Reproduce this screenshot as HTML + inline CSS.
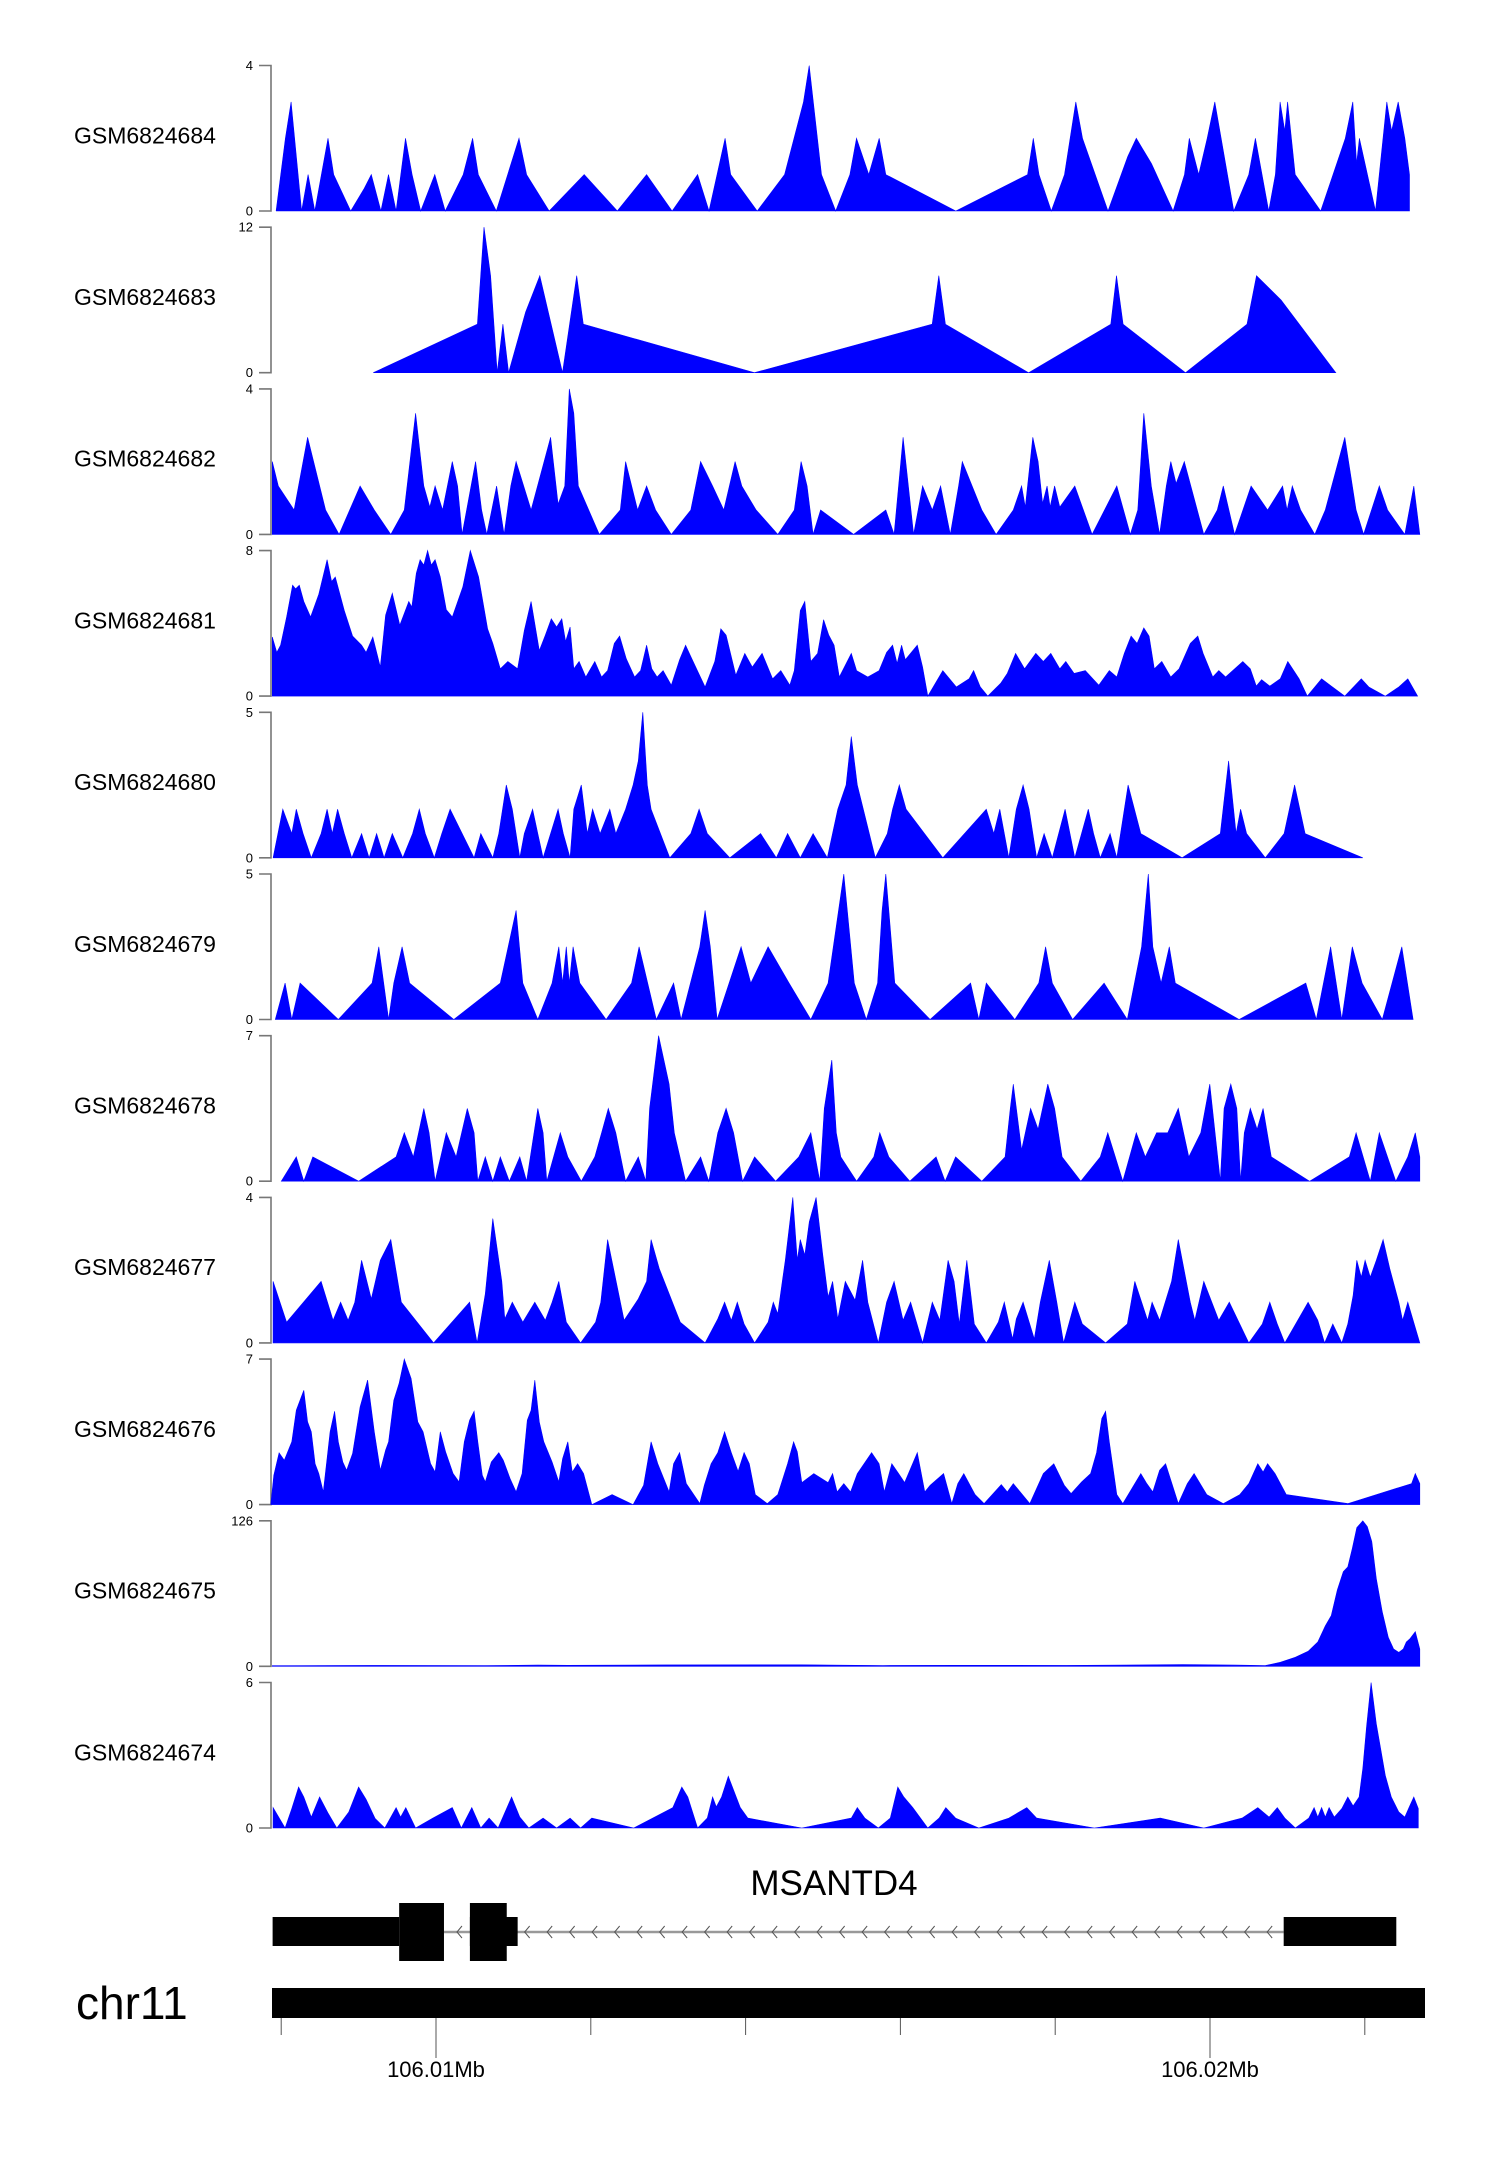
<!DOCTYPE html>
<html><head><meta charset="utf-8"><style>
html,body{margin:0;padding:0;background:#fff;}
svg{display:block;font-family:"Liberation Sans",sans-serif;}
</style></head><body>
<svg id="chart" width="1500" height="2170" viewBox="0 0 1500 2170" xmlns="http://www.w3.org/2000/svg"></svg>
<script>
// ---------- data ----------
// positions are genomic bins (BIN_BP bp each) counted from REGION_START_BP
const REGION_START_BP = 106007730;
const BIN_BP = 9.69;
const sampleNames = ["GSM6824684","GSM6824683","GSM6824682","GSM6824681","GSM6824680","GSM6824679","GSM6824678","GSM6824677","GSM6824676","GSM6824675","GSM6824674"];
const yMax = [4,12,4,8,5,5,7,4,7,126,6];
const gsm6824684 = [[21,0],[33.5,2],[41,3],[55,0],[63.7,1],[72.6,0],[90.2,2],[97.8,1],[120.5,0],[138,0.6],[148,1],[160.8,0],[170.9,1],[181,0],[193.6,2],[202.4,1],[213.8,0],[232.7,1],[246.5,0],[270.5,1],[283.1,2],[290.7,1],[314.6,0],[344.9,2],[355,1],[385.2,0],[431.8,1],[476,0],[515,1],[549,0],[583.1,1],[598.2,0],[619.7,2],[627.2,1],[662.5,0],[699.1,1],[724.3,3],[731.8,4],[748.2,1],[767.2,0],[786.1,1],[794.9,2],[811.3,1],[825.2,2],[834,1],[927.3,0],[1023,1],[1030.6,2],[1038.2,1],[1054.6,0],[1072.2,1],[1087.3,3],[1096.2,2],[1130.2,0],[1156.7,1.5],[1168,2],[1188.2,1.3],[1217.1,0],[1232.3,1],[1238.6,2],[1251.2,1],[1262.5,2],[1272.6,3],[1298,0],[1318,1],[1326.8,2],[1344.5,0],[1353.4,1],[1359.7,3],[1366,2.2],[1369.7,3],[1379.8,1],[1413.8,0],[1446.6,2],[1456.7,3],[1461.7,1.3],[1465.5,2],[1486.9,0],[1502,3],[1508.4,2.2],[1517.2,3],[1526,2],[1532.3,1]];
const gsm6824683 = [[150.7,0],[289.4,4],[298.2,12],[307,8],[315.9,0],[323.4,4],[331,0],[353.7,5],[372.6,8],[402.9,0],[421.8,8],[430.6,4],[658.8,0],[895.8,4],[904.6,8],[913.4,4],[1024.4,0],[1134,4],[1141.6,8],[1150.4,4],[1233.6,0],[1315.6,4],[1328.2,8],[1360.9,6],[1434,0]];
const gsm6824682 = [[16,2],[24,1.33],[45,0.67],[63,2.67],[87,0.67],[105,0],[133,1.33],[152,0.67],[174,0],[192,0.67],[207,3.33],[218,1.33],[226,0.75],[233,1.33],[243,0.67],[256,2],[263,1.33],[269,0],[287,2],[295,0.67],[302,0],[315,1.33],[325,0],[334,1.33],[341,2],[361,0.67],[387,2.67],[397,0.83],[406,1.33],[412,4],[418,3.33],[424,1.33],[452,0],[480,0.67],[487,2],[503,0.67],[515,1.33],[527,0.67],[548,0],[574,0.67],[587,2],[603,1.33],[618,0.67],[633,2],[642,1.33],[661,0.67],[690,0],[712,0.67],[721,2],[729,1.33],[737,0],[747,0.67],[791,0],[834,0.67],[845,0],[857,2.67],[871,0],[883,1.33],[896,0.67],[907,1.33],[920,0],[931,1.33],[936,2],[962,0.67],[981,0],[1004,0.67],[1015,1.33],[1020,0.75],[1030,2.67],[1037,2],[1043,0.85],[1049,1.33],[1053,0.75],[1059,1.33],[1066,0.75],[1086,1.33],[1109,0],[1142,1.33],[1160,0],[1170,0.67],[1178,3.33],[1188,1.33],[1199,0],[1208,1.33],[1214,2],[1221,1.4],[1232,2],[1258,0],[1276,0.67],[1284,1.33],[1299,0],[1321,1.33],[1343,0.67],[1363,1.33],[1369,0.67],[1376,1.33],[1387,0.67],[1406,0],[1420,0.67],[1446,2.67],[1461,0.67],[1471,0],[1492,1.33],[1503,0.67],[1526,0],[1538,1.33],[1546,0]];
const gsm6824681 = [[16,3.25],[22,2.4],[27,2.8],[35,4.35],[43,6.1],[47,5.9],[52,6.1],[58,5.2],[67,4.35],[78,5.6],[89,7.5],[95,6.3],[100,6.55],[112,4.7],[123,3.3],[135,2.8],[141,2.4],[150,3.25],[160,1.6],[167,4.45],[176,5.65],[186,3.9],[198,5.2],[202,4.9],[208,6.75],[213,7.5],[218,7.2],[223,8],[228,7.2],[233,7.5],[240,6.55],[248,4.75],[256,4.35],[270,6],[280,8],[291,6.55],[303,3.7],[310,2.9],[320,1.5],[330,1.9],[343,1.5],[352,3.6],[361,5.2],[372,2.5],[380,3.35],[388,4.25],[395,3.8],[402,4.25],[407,3],[413,3.8],[418,1.5],[425,1.9],[434,1.05],[446,1.9],[455,1.05],[463,1.4],[472,2.9],[479,3.3],[488,2.05],[499,1.05],[507,1.4],[515,2.8],[522,1.5],[529,1.05],[537,1.4],[548,0.6],[559,2],[567,2.8],[576,2],[593,0.5],[606,1.9],[614,3.7],[621,3.35],[634,1.15],[646,2.35],[656,1.6],[669,2.35],[683,0.95],[694,1.4],[706,0.6],[712,1.4],[720,4.7],[726,5.2],[734,1.9],[743,2.35],[751,4.2],[758,3.35],[765,2.8],[772,1.05],[788,2.35],[795,1.4],[810,1.05],[825,1.4],[835,2.4],[843,2.8],[849,1.8],[855,2.8],[860,2],[876,2.8],[883,1.6],[890,0],[910,1.4],[928,0.5],[945,0.95],[951,1.4],[960,0.5],[970,0],[987,0.7],[996,1.25],[1007,2.35],[1019,1.5],[1034,2.35],[1044,1.9],[1054,2.35],[1066,1.5],[1074,1.9],[1085,1.25],[1100,1.4],[1118,0.6],[1132,1.4],[1142,1.05],[1152,2.35],[1161,3.3],[1169,2.9],[1178,3.75],[1185,3.3],[1192,1.5],[1202,1.9],[1214,1.05],[1225,1.5],[1240,2.9],[1250,3.3],[1257,2.35],[1270,1.05],[1278,1.4],[1287,1.05],[1310,1.9],[1320,1.5],[1328,0.55],[1335,0.9],[1346,0.55],[1360,0.95],[1370,1.9],[1385,0.95],[1396,0],[1415,0.95],[1428,0.55],[1446,0],[1468,0.95],[1478,0.5],[1500,0],[1518,0.5],[1530,0.95],[1543,0]];
const gsm6824680 = [[17,0],[30,1.67],[42,0.83],[48,1.67],[57,0.83],[68,0],[81,0.83],[89,1.67],[96,0.83],[103,1.67],[112,0.83],[122,0],[135,0.83],[145,0],[155,0.83],[165,0],[176,0.83],[190,0],[203,0.83],[212,1.67],[220,0.83],[232,0],[242,0.83],[253,1.67],[285,0],[294,0.83],[310,0],[318,0.83],[328,2.5],[336,1.67],[346,0],[352,0.83],[363,1.67],[370,0.83],[377,0],[387,0.83],[397,1.67],[404,0.83],[413,0],[418,1.67],[428,2.5],[436,0.83],[443,1.67],[453,0.83],[466,1.67],[474,0.83],[487,1.67],[497,2.5],[504,3.33],[510,5],[516,2.5],[521,1.67],[546,0],[574,0.83],[585,1.67],[596,0.83],[626,0],[667,0.83],[688,0],[703,0.83],[720,0],[737,0.83],[756,0],[770,1.67],[781,2.5],[788,4.17],[796,2.5],[804,1.67],[820,0],[836,0.83],[843,1.67],[852,2.5],[861,1.67],[910,0],[968,1.67],[978,0.83],[986,1.67],[998,0],[1008,1.67],[1017,2.5],[1025,1.67],[1035,0],[1045,0.83],[1056,0],[1073,1.67],[1086,0],[1104,1.67],[1111,0.83],[1120,0],[1133,0.83],[1142,0],[1157,2.5],[1174,0.83],[1229,0],[1280,0.83],[1291,3.33],[1301,0.83],[1307,1.67],[1315,0.83],[1340,0],[1365,0.83],[1379,2.5],[1393,0.83],[1470,0]];
const gsm6824679 = [[20,0],[33,1.25],[42,0],[53,1.25],[104,0],[149,1.25],[158,2.5],[171,0],[178,1.25],[189,2.5],[199,1.25],[258,0],[320,1.25],[341,3.75],[350,1.25],[370,0],[389,1.25],[398,2.5],[403,1.25],[408,2.5],[412,1.25],[417,2.5],[426,1.25],[461,0],[495,1.25],[505,2.5],[528,0],[551,1.25],[561,0],[586,2.5],[593,3.75],[600,2.5],[609,0],[641,2.5],[654,1.25],[677,2.5],[705,1.25],[734,0],[757,1.25],[778,5],[792,1.25],[808,0],[823,1.25],[829,3.75],[834,5],[846,1.25],[893,0],[947,1.25],[958,0],[968,1.25],[1006,0],[1038,1.25],[1047,2.5],[1056,1.25],[1083,0],[1125,1.25],[1156,0],[1175,2.5],[1184,5],[1190,2.5],[1201,1.25],[1212,2.5],[1220,1.25],[1305,0],[1394,1.25],[1408,0],[1427,2.5],[1442,0],[1456,2.5],[1469,1.25],[1496,0],[1522,2.5],[1537,0]];
const gsm6824678 = [[28,0],[48,1.17],[58,0],[70,1.17],[131,0],[181,1.17],[192,2.33],[204,1.17],[211,2.33],[218,3.5],[225,2.33],[233,0],[248,2.33],[261,1.17],[276,3.5],[285,2.33],[290,0],[300,1.17],[310,0],[320,1.17],[332,0],[346,1.17],[355,0],[370,3.5],[377,2.33],[382,0],[400,2.33],[410,1.17],[428,0],[446,1.17],[455,2.33],[464,3.5],[474,2.33],[487,0],[504,1.17],[514,0],[519,3.5],[531,7],[545,4.67],[552,2.33],[567,0],[587,1.17],[598,0],[610,2.33],[621,3.5],[631,2.33],[643,0],[659,1.17],[687,0],[718,1.17],[734,2.33],[746,0],[752,3.5],[762,5.83],[768,2.33],[774,1.17],[795,0],[818,1.17],[826,2.33],[838,1.17],[866,0],[901,1.17],[913,0],[927,1.17],[962,0],[993,1.17],[1000,3.5],[1004,4.67],[1015,1.5],[1027,3.5],[1037,2.5],[1050,4.67],[1059,3.5],[1069,1.17],[1094,0],[1120,1.17],[1130,2.33],[1140,1.17],[1150,0],[1168,2.33],[1180,1.17],[1195,2.33],[1210,2.33],[1224,3.5],[1238,1.17],[1254,2.33],[1266,4.67],[1280,0],[1285,3.5],[1294,4.67],[1302,3.5],[1307,0],[1312,2.33],[1320,3.5],[1329,2.5],[1337,3.5],[1348,1.17],[1399,0],[1452,1.17],[1461,2.33],[1480,0],[1492,2.33],[1514,0],[1530,1.17],[1540,2.33],[1546,1.17]];
const gsm6824677 = [[17,1.69],[35,0.57],[81,1.69],[97,0.62],[107,1.12],[117,0.62],[126,1.12],[135,2.27],[148,1.21],[160,2.27],[174,2.84],[188,1.12],[231,0],[279,1.12],[289,0],[300,1.35],[310,3.42],[318,2.27],[322,1.69],[326,0.66],[336,1.12],[350,0.57],[366,1.12],[380,0.62],[389,1.12],[398,1.69],[408,0.57],[427,0],[447,0.57],[454,1.12],[463,2.84],[485,0.62],[504,1.21],[515,1.69],[521,2.84],[532,2.04],[560,0.57],[593,0],[610,0.66],[619,1.12],[628,0.62],[636,1.12],[645,0.52],[659,0],[677,0.57],[684,1.12],[690,0.8],[696,1.69],[700,2.27],[710,4],[716,2.27],[720,2.84],[726,2.41],[732,3.33],[741,4],[750,2.41],[757,1.26],[763,1.69],[770,0.66],[780,1.69],[793,1.17],[803,2.27],[810,1.12],[824,0],[835,1.12],[845,1.69],[857,0.62],[867,1.12],[883,0],[896,1.12],[906,0.62],[917,2.27],[925,1.69],[932,0.52],[942,2.27],[952,0.52],[968,0],[984,0.57],[992,1.12],[1003,0.11],[1008,0.66],[1017,1.12],[1032,0.11],[1040,1.12],[1052,2.27],[1062,1.12],[1071,0],[1086,1.12],[1096,0.52],[1127,0],[1156,0.52],[1166,1.69],[1183,0.62],[1189,1.12],[1199,0.62],[1215,1.69],[1224,2.84],[1240,1.12],[1246,0.62],[1258,1.69],[1278,0.62],[1292,1.12],[1318,0],[1336,0.52],[1346,1.12],[1356,0.52],[1366,0],[1397,1.12],[1410,0.62],[1419,0],[1430,0.52],[1442,0],[1450,0.52],[1457,1.3],[1462,2.27],[1468,1.81],[1473,2.27],[1480,1.81],[1488,2.27],[1497,2.84],[1506,2.04],[1518,1.12],[1523,0.62],[1530,1.12],[1546,0]];
const gsm6824676 = [[14,0],[18,1.41],[25,2.49],[32,2.13],[42,3.02],[48,4.54],[58,5.5],[63,3.98],[68,3.5],[73,1.97],[78,1.49],[84,0.61],[93,3.5],[99,4.49],[104,3.02],[110,2.05],[115,1.65],[123,2.46],[133,4.7],[143,5.99],[152,3.5],[160,1.65],[167,2.62],[171,3.02],[178,5.02],[185,5.83],[192,7],[201,6.07],[210,3.98],[217,3.5],[227,1.97],[233,1.57],[240,3.5],[247,2.54],[257,1.49],[265,1.09],[272,3.02],[279,4.06],[285,4.49],[290,3.02],[296,1.41],[300,1.09],[308,2.05],[318,2.5],[324,2.13],[333,1.25],[341,0.61],[349,1.49],[356,4.06],[361,4.54],[366,5.99],[372,3.98],[378,3.02],[389,2.05],[398,1.09],[403,2.21],[410,3.02],[416,1.57],[423,1.97],[431,1.49],[442,0],[469,0.48],[497,0],[511,0.93],[521,3.02],[530,1.97],[545,0.61],[551,1.97],[559,2.5],[568,1.01],[586,0.05],[592,0.93],[601,1.97],[610,2.5],[619,3.5],[628,2.5],[637,1.6],[645,2.5],[652,1.97],[660,0.48],[676,0.05],[690,0.48],[703,1.97],[711,3.02],[716,2.54],[722,1.06],[738,1.49],[757,1.06],[763,1.49],[769,0.61],[778,1.01],[787,0.61],[796,1.49],[815,2.5],[825,1.97],[832,0.61],[842,1.97],[851,1.49],[859,1.06],[876,2.5],[886,0.61],[893,0.93],[911,1.49],[922,0.05],[930,1.01],[938,1.49],[953,0.48],[965,0.05],[988,0.96],[996,0.61],[1004,1.01],[1026,0.05],[1044,1.49],[1058,1.97],[1072,0.93],[1081,0.53],[1095,1.09],[1107,1.49],[1115,2.5],[1122,4.14],[1127,4.49],[1132,3.02],[1142,0.48],[1150,0.05],[1174,1.49],[1182,1.01],[1190,0.61],[1199,1.65],[1207,1.97],[1224,0.05],[1236,1.01],[1245,1.49],[1262,0.48],[1284,0.05],[1306,0.48],[1318,1.01],[1330,1.97],[1337,1.57],[1343,1.97],[1353,1.49],[1368,0.48],[1450,0.05],[1535,1.01],[1540,1.49],[1546,1.01]];
const gsm6824675 = [[16,0.5],[80,0.7],[150,0.8],[300,0.6],[370,1],[410,0.9],[540,1.2],[720,1.3],[830,0.7],[930,0.9],[1075,0.8],[1230,1.5],[1300,1],[1340,0.6],[1360,3.5],[1380,7.8],[1397,13],[1410,21],[1420,35],[1428,44],[1436,66],[1444,82],[1450,86],[1456,102],[1462,120],[1470,126],[1476,121],[1482,108],[1488,76],[1496,47],[1504,25],[1511,15],[1518,12],[1524,15],[1528,21],[1533,24],[1540,30],[1546,15]];
const gsm6824674 = [[17,0.84],[33,0],[42,0.8],[51,1.69],[58,1.28],[68,0.45],[79,1.28],[90,0.63],[102,0],[118,0.66],[131,1.69],[141,1.18],[153,0.39],[166,0],[181,0.84],[187,0.45],[194,0.84],[207,0],[230,0.41],[256,0.84],[268,0],[282,0.84],[294,0],[305,0.41],[317,0],[335,1.28],[346,0.45],[358,0],[377,0.41],[395,0],[413,0.41],[427,0],[442,0.41],[498,0],[550,0.84],[562,1.69],[570,1.28],[583,0],[596,0.41],[603,1.28],[608,0.87],[615,1.28],[624,2.13],[640,0.84],[650,0.41],[722,0],[788,0.41],[796,0.84],[806,0.41],[824,0],[840,0.41],[850,1.69],[858,1.28],[870,0.84],[890,0],[905,0.41],[914,0.84],[927,0.41],[958,0],[998,0.41],[1022,0.84],[1035,0.41],[1112,0],[1200,0.41],[1258,0],[1309,0.41],[1330,0.84],[1345,0.45],[1356,0.84],[1366,0.41],[1380,0],[1398,0.41],[1405,0.84],[1410,0.45],[1415,0.84],[1420,0.45],[1425,0.84],[1432,0.45],[1442,0.8],[1450,1.28],[1457,0.91],[1465,1.28],[1470,2.45],[1475,4.2],[1481,6],[1488,4.3],[1500,2.17],[1508,1.28],[1518,0.66],[1526,0.45],[1532,0.87],[1538,1.28],[1544,0.8]];
const trackData = [gsm6824684,gsm6824683,gsm6824682,gsm6824681,gsm6824680,gsm6824679,gsm6824678,gsm6824677,gsm6824676,gsm6824675,gsm6824674];
// axis ticks (Mb)
const axisTicksMb = [106.008,106.010,106.012,106.014,106.016,106.018,106.020,106.022];
const axisLabelsMb = ["","106.01Mb","","","","","106.02Mb",""];
// gene model (bp)
const geneName = "MSANTD4";
const geneUtrBp = [[106007889,106009524],[106010438,106011055],[106020952,106022407]];
const geneCdsBp = [[106009524,106010103],[106010438,106010914]];
const geneSpanBp = [106011055,106020952];

// ---------- scales ----------
const NS = "http://www.w3.org/2000/svg";
const svg = document.getElementById("chart");
function xScaleBp(bp){ return 436 + (bp - 106010000) / 10000 * 774; }
function xScaleBin(b){ return xScaleBp(REGION_START_BP + b * BIN_BP); }
const TRACK_TOP0 = 65.5, TRACK_STEP = 161.7, TRACK_H = 145.5;
function yScale(v, max, top){ return top + TRACK_H * (1 - v / max); }
function mk(tag, attrs){ const e = document.createElementNS(NS, tag); for (const k in attrs) e.setAttribute(k, attrs[k]); return e; }

// ---------- tracks ----------
trackData.forEach((pts, i) => {
  const top = TRACK_TOP0 + i * TRACK_STEP;
  const base = top + TRACK_H;
  const g = mk("g", {});
  
  
  const lab = mk("text", {x: 74, y: top + TRACK_H/2 + 5, "font-size": 23, fill: "#000"});
  lab.textContent = sampleNames[i];
  
  
  g.appendChild(lab);
  const ax = mk("path", {d: `M259 ${top} H271 V${base} H259`, stroke: "#777", "stroke-width": 1.6, fill: "none"});
  
  
  g.appendChild(ax);
  [[yMax[i], top], [0, base]].forEach(([v, yy]) => {
    const t = mk("text", {x: 253, y: yy + 4.5, "font-size": 13, "text-anchor": "end", fill: "#000"});
    t.textContent = String(v);
    
    
    g.appendChild(t);
  });
  let d = `M${xScaleBin(pts[0][0])} ${base}`;
  pts.forEach(p => { d += ` L${xScaleBin(p[0]).toFixed(1)} ${yScale(p[1], yMax[i], top).toFixed(1)}`; });
  d += ` L${xScaleBin(pts[pts.length-1][0]).toFixed(1)} ${base} Z`;
  const area = mk("path", {d: d, fill: "#0000ff", stroke: "#0000ff", "stroke-width": 0.6});
  
  
  g.appendChild(area);
  svg.appendChild(g);
});

// ---------- gene track ----------
const gg = mk("g", {});


const gname = mk("text", {x: 834, y: 1895, "font-size": 35, "text-anchor": "middle", fill: "#000"});
gname.textContent = geneName;


gg.appendChild(gname);
const x1 = xScaleBp(geneSpanBp[0]), x2 = xScaleBp(geneSpanBp[1]);
const intr = mk("line", {x1: xScaleBp(geneCdsBp[0][1]), x2: x2, y1: 1932, y2: 1932, stroke: "#999", "stroke-width": 2.5});


gg.appendChild(intr);
let chev = "";
for (let x = x1 + 8; x < x2 - 4; x += 22.5) chev += `M${x+4} 1926 L${x-1} 1932 L${x+4} 1938 `;
chev += `M${xScaleBp(geneCdsBp[0][1])+18} 1926 L${xScaleBp(geneCdsBp[0][1])+13} 1932 L${xScaleBp(geneCdsBp[0][1])+18} 1938`;
const chevP = mk("path", {d: chev, stroke: "#555", "stroke-width": 1, fill: "none"});


gg.appendChild(chevP);
geneUtrBp.forEach(r => {
  const rc = mk("rect", {x: xScaleBp(r[0]), y: 1917, width: xScaleBp(r[1]) - xScaleBp(r[0]), height: 29, fill: "#000"});
  
  
  gg.appendChild(rc);
});
geneCdsBp.forEach(r => {
  const rc = mk("rect", {x: xScaleBp(r[0]), y: 1903, width: xScaleBp(r[1]) - xScaleBp(r[0]), height: 58, fill: "#000"});
  
  
  gg.appendChild(rc);
});
svg.appendChild(gg);

// ---------- ideogram / axis ----------
const chrLab = mk("text", {x: 76, y: 2019, "font-size": 46, fill: "#000"});
chrLab.textContent = "chr11";


svg.appendChild(chrLab);
const chrBar = mk("rect", {x: 272, y: 1988, width: 1153, height: 30, fill: "#000"});


svg.appendChild(chrBar);
axisTicksMb.forEach((mb, i) => {
  const x = xScaleBp(mb * 1e6);
  const long = axisLabelsMb[i] !== "";
  const tk = mk("line", {x1: x, x2: x, y1: 2018, y2: long ? 2058 : 2035, stroke: "#555", "stroke-width": 1});
  
  
  svg.appendChild(tk);
  if (long) {
    const t = mk("text", {x: x, y: 2077, "font-size": 22, "text-anchor": "middle", fill: "#000"});
    t.textContent = axisLabelsMb[i];
    
    
    svg.appendChild(t);
  }
});
</script>
</body></html>
